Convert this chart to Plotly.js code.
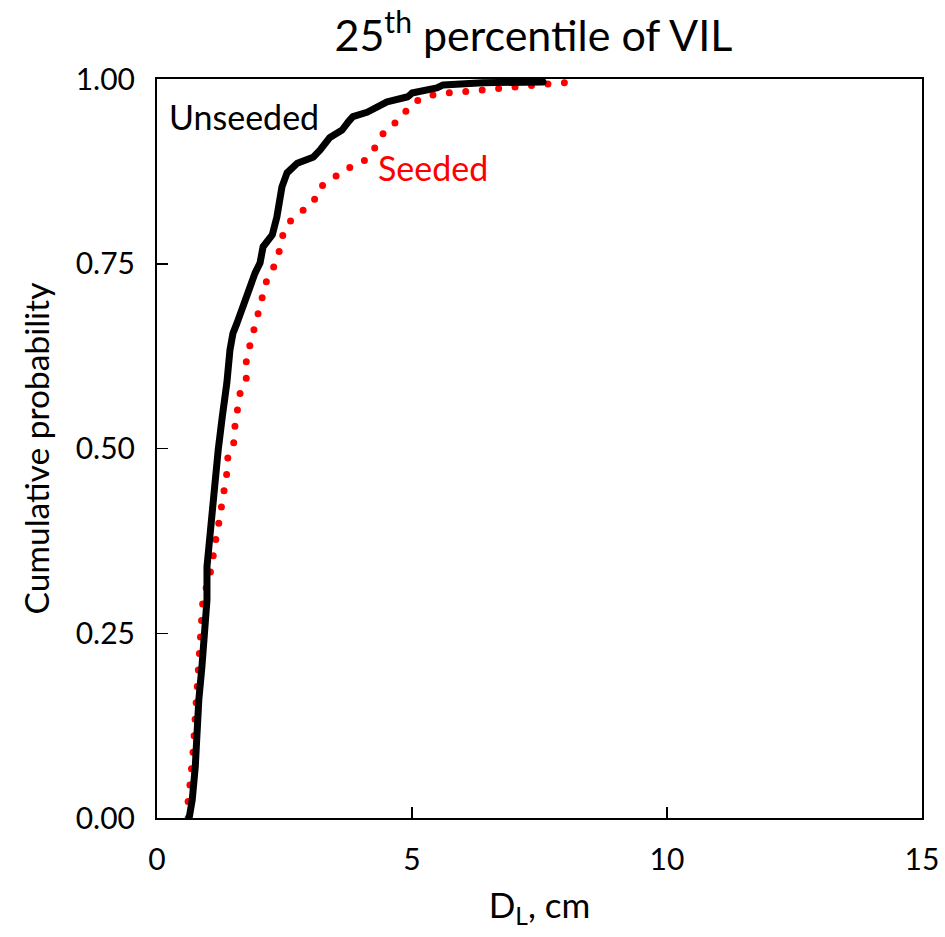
<!DOCTYPE html>
<html>
<head>
<meta charset="utf-8">
<script src="https://cdn.plot.ly/plotly-3.0.1.min.js"></script>
<style>
  html, body { margin: 0; padding: 0; background: #fff; }
  #chart { width: 945px; height: 937px; }
  .js-line { stroke-linecap: round; stroke-linejoin: round; }
</style>
</head>
<body>
<div id="chart"></div>
<script>
// Unseeded (black solid) CDF
const unseededX = [0.63, 0.69, 0.75, 0.78, 0.82, 0.88, 0.92, 0.98, 0.98, 1.04, 1.10, 1.14, 1.20, 1.28, 1.33, 1.37, 1.43, 1.49, 1.57, 1.67, 1.78, 1.92, 2.02, 2.08, 2.26, 2.35, 2.45, 2.55, 2.65, 2.75, 3.06, 3.20, 3.39, 3.63, 3.75, 3.84, 4.12, 4.31, 4.51, 4.92, 5.00, 5.49, 5.61, 6.39, 7.57];
const unseededY = [0.000, 0.024, 0.069, 0.115, 0.160, 0.204, 0.250, 0.295, 0.340, 0.386, 0.430, 0.453, 0.498, 0.543, 0.566, 0.589, 0.633, 0.656, 0.670, 0.687, 0.710, 0.737, 0.751, 0.773, 0.789, 0.813, 0.854, 0.873, 0.881, 0.886, 0.894, 0.904, 0.921, 0.931, 0.942, 0.949, 0.955, 0.962, 0.969, 0.976, 0.981, 0.988, 0.992, 0.995, 0.996];

// Seeded (red dotted) CDF
const seededX = [0.61, 0.61, 0.65, 0.69, 0.71, 0.75, 0.77, 0.78, 0.80, 0.84, 0.88, 0.90, 1.06, 1.10, 1.16, 1.22, 1.28, 1.31, 1.37, 1.39, 1.51, 1.53, 1.59, 1.63, 1.75, 1.75, 1.82, 1.90, 1.98, 2.06, 2.14, 2.28, 2.39, 2.45, 2.59, 2.82, 3.06, 3.18, 3.45, 3.67, 3.96, 4.20, 4.33, 4.51, 4.78, 4.94, 5.22, 5.53, 5.86, 6.18, 6.51, 6.82, 7.16, 7.49, 7.80, 8.14];
const seededY = [0.000, 0.024, 0.047, 0.069, 0.092, 0.137, 0.160, 0.183, 0.204, 0.250, 0.271, 0.295, 0.336, 0.359, 0.380, 0.402, 0.424, 0.445, 0.467, 0.489, 0.509, 0.532, 0.553, 0.575, 0.595, 0.617, 0.639, 0.660, 0.682, 0.704, 0.725, 0.744, 0.765, 0.786, 0.806, 0.820, 0.832, 0.853, 0.865, 0.878, 0.884, 0.897, 0.915, 0.934, 0.945, 0.963, 0.976, 0.980, 0.982, 0.985, 0.988, 0.989, 0.991, 0.992, 0.995, 0.996];

const xTicks = [0, 5, 10, 15];
const yTicks = [0, 0.25, 0.5, 0.75, 1.0];
const yTickLabels = ['0.00', '0.25', '0.50', '0.75', '1.00'];

const FONT = 'Lato, "Open Sans", sans-serif';

const traces = [
  {
    x: seededX, y: seededY, type: 'scatter', mode: 'lines', name: 'Seeded',
    line: { color: '#ff0000', width: 7, dash: '0px,16.5px' },
    hoverinfo: 'skip'
  },
  {
    x: unseededX, y: unseededY, type: 'scatter', mode: 'lines', name: 'Unseeded',
    line: { color: '#000000', width: 7 },
    hoverinfo: 'skip'
  }
];

const layout = {
  width: 945, height: 937,
  margin: { l: 157, r: 23, t: 79, b: 119 },
  paper_bgcolor: '#ffffff', plot_bgcolor: '#ffffff',
  showlegend: false,
  font: { family: FONT, size: 30, color: '#000' },
  title: {
    text: '25<sup>th</sup> percentile of VIL',
    font: { family: FONT, size: 43, color: '#000' },
    x: 0.492, xanchor: 'center', xref: 'paper',
    y: 0.962, yanchor: 'middle'
  },
  xaxis: {
    range: [0, 15], tickvals: xTicks, ticktext: xTicks.map(String),
    ticks: 'inside', ticklen: 11, tickwidth: 1.5, tickcolor: '#000',
    showline: true, linecolor: '#000', linewidth: 2, mirror: true,
    showgrid: false, zeroline: false,
    tickfont: { family: FONT, size: 30, color: '#000' },
    ticklabelstandoff: 14,
    title: { text: 'D<sub>L</sub>, cm', font: { family: FONT, size: 35, color: '#000' }, standoff: 18 },
    fixedrange: true
  },
  yaxis: {
    range: [0, 1], tickvals: yTicks, ticktext: yTickLabels,
    ticks: 'inside', ticklen: 11, tickwidth: 1.5, tickcolor: '#000',
    showline: true, linecolor: '#000', linewidth: 2, mirror: true,
    showgrid: false, zeroline: false,
    tickfont: { family: FONT, size: 30, color: '#000' },
    ticklabelstandoff: 14,
    title: { text: 'Cumulative probability', font: { family: FONT, size: 33.5, color: '#000' }, standoff: 16 },
    fixedrange: true
  },
  annotations: [
    { x: 0.2, y: 0.949, xref: 'x', yref: 'y', text: 'Unseeded', showarrow: false,
      xanchor: 'left', yanchor: 'middle', font: { family: FONT, size: 34, color: '#000' } },
    { x: 4.3, y: 0.880, xref: 'x', yref: 'y', text: 'Seeded', showarrow: false,
      xanchor: 'left', yanchor: 'middle', font: { family: FONT, size: 34, color: '#ff0000' } }
  ]
};

Plotly.newPlot('chart', traces, layout, { staticPlot: true, displayModeBar: false });
</script>
</body>
</html>
